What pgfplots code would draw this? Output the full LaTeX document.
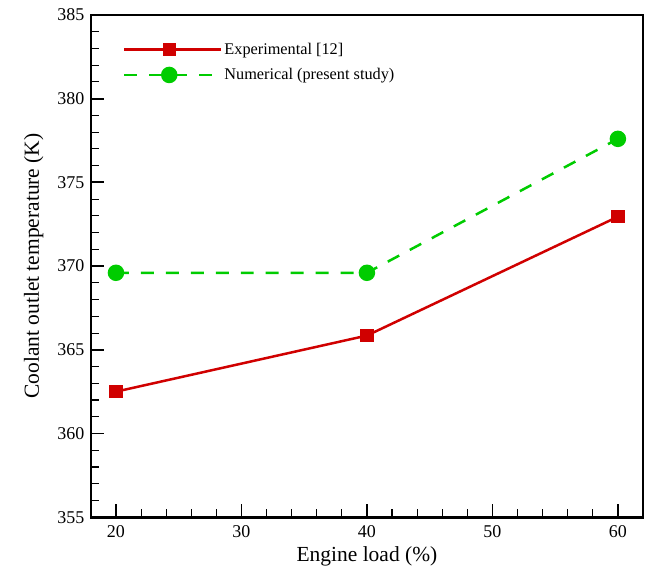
\documentclass[border=0pt]{standalone}
\usepackage{pgfplots}
\pgfplotsset{compat=1.18}
\usepackage{fontspec}
\setmainfont{Liberation Serif}
\definecolor{expred}{RGB}{208,0,0}
\definecolor{numgreen}{RGB}{0,204,0}
\newcommand{\tl}[1]{\fontsize{18}{21}\selectfont #1}
\pgfplotsset{
  every tick/.style={black},
  every major tick/.style={black, line width=1.8pt},
  every minor tick/.style={black, line width=1.1pt},
  every axis label/.append style={font=\fontsize{21.5}{24}\selectfont},
}
\begin{document}
\begin{tikzpicture}
\begin{axis}[
  scale only axis,
  width=553pt, height=503pt,
  xmin=18, xmax=62, ymin=355, ymax=385,
  xtick={20,30,40,50,60}, ytick={355,360,365,370,375,380,385},
  xticklabels={\tl{20},\tl{30},\tl{40},\tl{50},\tl{60}},
  yticklabels={\tl{355},\tl{360},\tl{365},\tl{370},\tl{375},\tl{380},\tl{385}},
  minor x tick num=4, minor y tick num=4,
  tick align=inside,
  tick pos=left,
  major tick length=13pt, minor tick length=8pt,
  xticklabel shift=5pt,
  yticklabel shift=3pt,
  xlabel={Engine load (\%)},
  xlabel style={yshift=-2pt},
  ylabel={Coolant outlet temperature (K)},
  ylabel style={yshift=7pt},
  legend style={draw=none, fill=none, inner sep=0pt, at={(0.058,0.948)}, anchor=north west, font=\fontsize{16.3}{19}\selectfont, row sep=8.5pt},
  legend cell align=left,
  legend image code/.code={\draw[#1] (0pt,0pt) -- (90pt,0pt); \draw[#1, mark repeat=1] plot coordinates {(45pt,0pt)}; \path (0pt,0pt) -- (97pt,0pt);},
]
\addplot[expred, line width=2.5pt, mark=square*, mark size=5.5pt, mark options={solid}] coordinates {(20,362.5) (40,365.85) (60,372.95)};
\addlegendentry{Experimental [12]}
\addplot[numgreen, line width=2.5pt, dash pattern=on 13pt off 12pt, mark=*, mark size=7pt, mark options={solid}] coordinates {(20,369.6) (40,369.6) (60,377.6)};
\addlegendentry{Numerical (present study)}
\end{axis}
\draw[black, line width=2.6pt] (current axis.south west) rectangle (current axis.north east);
\path (current axis.south west) ++(-91pt,-56pt) rectangle ++(647pt,574pt);
\end{tikzpicture}
\end{document}
